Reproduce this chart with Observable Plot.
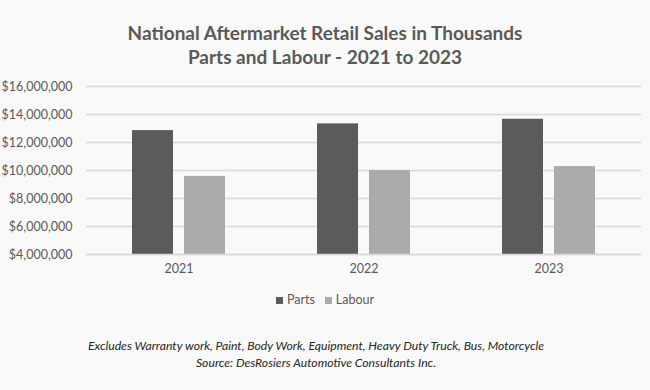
<!DOCTYPE html>
<html>
<head>
<meta charset="utf-8">
<script src="https://cdn.jsdelivr.net/npm/d3@7"></script>
<script src="https://cdn.jsdelivr.net/npm/@observablehq/plot@0.6"></script>
<style>
  body { margin: 0; background: #f9f9f9; width: 650px; height: 390px; overflow: hidden; font-family: Lato, "Open Sans", sans-serif; }
  #title { height: 69px; box-sizing: border-box; padding-top: 21px; text-align: center; font-weight: bold; font-size: 19px; line-height: 24px; color: #595959; }
  #legend { height: 30px; line-height: 30px; text-align: center; font-size: 12.5px; color: #595959; }
  #legend span.sw { display: inline-block; width: 7px; height: 7px; margin-right: 4px; vertical-align: 0px; }
  #legend span.item { margin: 0 5px; }
  #caption { padding-top: 22px; padding-right: 18px; text-align: center; font-style: italic; font-size: 12.2px; line-height: 17px; color: #262626; }
  svg { display: block; }
</style>
</head>
<body>
<div id="title">National Aftermarket Retail Sales in Thousands<br>Parts and Labour - 2021 to 2023</div>
<div id="chart"></div>
<div id="legend"></div>
<div id="caption">Excludes Warranty work, Paint, Body Work, Equipment, Heavy Duty Truck, Bus, Motorcycle<br>Source: DesRosiers Automotive Consultants Inc.</div>
<script>
const years = ["2021", "2022", "2023"];
const seriesNames = ["Parts", "Labour"];
const parts = [12850000, 13330000, 13660000];
const labour = [9580000, 10000000, 10280000];
const colors = ["#5b5b5b", "#ababab"];
const yTicks = [4000000, 6000000, 8000000, 10000000, 12000000, 14000000, 16000000];

const data = [];
years.forEach((y, i) => {
  data.push({year: y, series: "Parts", value: parts[i]});
  data.push({year: y, series: "Labour", value: labour[i]});
});

const plot = Plot.plot({
  width: 650,
  height: 216,
  marginTop: 17,
  marginBottom: 31,
  marginLeft: 85,
  marginRight: 9,
  style: {background: "transparent", fontFamily: "Lato, 'Open Sans', sans-serif", fontSize: "12.5px", color: "#595959"},
  fx: {domain: years, padding: 0, label: null, axis: "bottom", tickSize: 0, tickPadding: 10},
  x: {domain: seriesNames, paddingInner: 0.218, paddingOuter: 0.855, axis: null},
  y: {domain: [4000000, 16000000], ticks: yTicks, tickFormat: d3.format("$,"), label: null, tickSize: 0, tickPadding: 14},
  color: {domain: seriesNames, range: colors},
  marks: [
    Plot.gridY(yTicks, {stroke: "#d9d9d9", strokeOpacity: 1, strokeWidth: 1.5, facetAnchor: null}),
    Plot.barY(data, {fx: "year", x: "series", y1: 4000000, y2: "value", fill: "series"}),
    Plot.ruleY([4000000], {stroke: "#d9d9d9", strokeWidth: 1.5})
  ]
});
document.getElementById("chart").appendChild(plot);

const lg = document.getElementById("legend");
seriesNames.forEach((s, i) => {
  const item = document.createElement("span");
  item.className = "item";
  item.innerHTML = `<span class="sw" style="background:${colors[i]}"></span>${s}`;
  lg.appendChild(item);
});
</script>
</body>
</html>
